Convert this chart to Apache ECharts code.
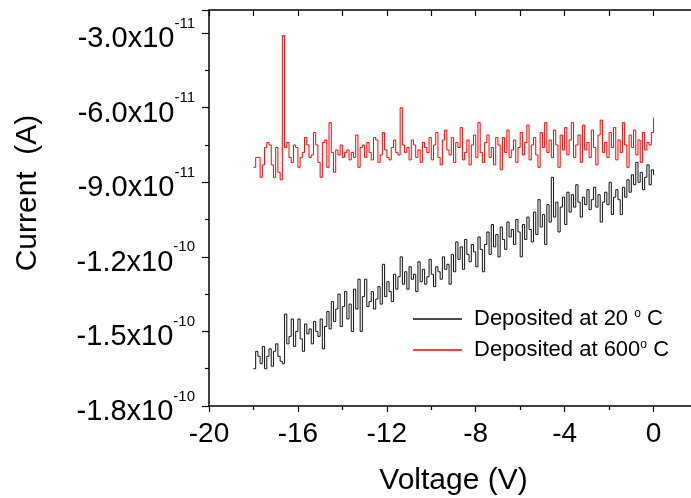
<!DOCTYPE html>
<html>
<head>
<meta charset="utf-8">
<script src="https://cdn.jsdelivr.net/npm/echarts@6/dist/echarts.min.js"></script>
<style>
html,body{margin:0;padding:0;background:#fff;}
#chart{width:691px;height:498px;}
</style>
</head>
<body>
<div id="chart"></div>
<script>
// Voltage sweep (V): -18.0 to 0.0 in 0.1 V steps
const voltageStart = -18.0;
const voltageStep = 0.1;
// Currents in pA (x1e-12 A)
const current20C = [
-165,-158,-160,-163,-156,-165,-160,-157,-164,-158,-155,-160,
-162,-163,-143,-155,
-152,-145,-156,-150,-145,-153,-158,-147,-151,-149,-155,-146,-150,-152,-145,-157,-148,-142,
-149,-138,-146,-141,-135,-148,-140,-134,-145,-139,-150,-133,-141,-129,
-150,-136,-129,-140,-138,-134,-141,-137,-132,-139,-123,-136,-130,-134,-138,-127,-133,-128,-120,
-131,-126,-133,-124,-129,-127,-134,-122,-130,-125,-131,-128,-121,-127,-132,-124,-126,-129,-120,-125,-123,-131,-119,-126,
-114,-121,-116,-125,-113,-119,-122,-115,-118,-124,-112,-117,-126,
-115,-110,-119,-107,-116,-111,-120,-108,-113,-117,-106,-112,-109,-115,-105,-110,-120,-107,-113,-104,-109,-114,-102,
-111,-97,-108,-103,-115,-99,-106,-88,-104,-98,-110,-100,-96,-107,-94,
-102,-95,-100,-91,-98,-104,-96,-99,-93,-101,-97,-92,-100,-95,-106,-98,-94,-99,-90,-103,-96,-93,-97,
-103,-92,-96,-89,-94,-87,-91,-82,-90,-86,-93,-88,-83,-91,-85,-87
];
const current600C = [
-84,-80,-80,-88,-83,-76,-74,-75,-83,-88,-76,-86,-89,
-31,
-76,-74,-80,-82,-75,-76,-84,-80,-78,-72,-75,-80,-79,-70,-75,-82,-88,-74,-73,-84,-66,-78,
-86,-77,-79,-75,-80,-78,-77,-81,-78,-80,-71,-84,-76,-75,-80,-74,-78,-81,-72,-73,-82,-79,-70,-77,-80,-81,-76,-73,-78,-79,
-60,
-75,-78,-76,-81,-73,-75,-80,-77,-82,-74,-76,-78,-72,-81,-75,-70,-80,-83,-73,-69,-77,-79,-72,-82,-74,-76,-68,-81,-78,-73,-83,-75,-71,-80,-66,-78,-82,-74,-71,-80,-76,-83,-72,-75,
-85,-72,-78,-69,-80,-77,-73,-82,-76,-70,-79,-74,-67,-81,-75,-72,-79,-84,-70,-76,-66,-78,-73,-80,-69,-75,-84,-71,-77,-68,
-79,-73,-66,-80,-75,-71,-82,-67,-77,-74,-80,-69,-76,-83,-71,-65,-78,-74,-80,-70,-76,-68,-81,-73,-78,-66,-75,-84,-71,-76,-69,-79,-73,-82,-70,-77,-74,-75,-70,-64
];
const seriesNames = ['Deposited at 20 ° C', 'Deposited at 600° C'];
const legendRich = ['{t|Deposited at 20 }{s|o}{t| C}', '{t|Deposited at 600}{s|o}{t| C}'];
const xTicks = [-20, -16, -12, -8, -4, 0];

const voltage = current20C.map((_, i) => +(voltageStart + voltageStep * i).toFixed(1));
const pairs = arr => arr.map((v, i) => [voltage[i], v]);

const FONT = "'Liberation Sans', Arial, sans-serif";
const chart = echarts.init(document.getElementById('chart'), null, {renderer: 'canvas'});
chart.setOption({
  animation: false,
  backgroundColor: '#fff',
  grid: {left: 209, right: -7, top: 10, bottom: 92, containLabel: false, outerBoundsMode: 'none'},
  legend: {
    orient: 'vertical', left: 413, top: 308, padding: 0, itemWidth: 49, itemHeight: 1.3, itemGap: 9,
    icon: 'rect',
    data: seriesNames,
    formatter: name => legendRich[seriesNames.indexOf(name)],
    textStyle: {
      fontFamily: FONT, color: '#000',
      rich: {
        t: {fontFamily: FONT, fontSize: 22, color: '#000', lineHeight: 22},
        s: {fontFamily: FONT, fontSize: 12, color: '#000', verticalAlign: 'top', lineHeight: 22}
      },
      padding: [0, 0, 0, 7]
    }
  },
  xAxis: [{
    type: 'value', position: 'bottom', min: -20, max: 2, interval: 4,
    name: 'Voltage (V)', nameLocation: 'middle', nameGap: 60,
    nameTextStyle: {fontFamily: FONT, fontSize: 30, color: '#000'},
    axisLine: {show: true, onZero: false, lineStyle: {color: '#000', width: 1.5}},
    axisTick: {show: true, inside: false, length: 6, lineStyle: {color: '#000', width: 1.2}},
    minorTick: {show: true, splitNumber: 2, length: 4, lineStyle: {color: '#000', width: 1.2}},
    splitLine: {show: false},
    axisLabel: {fontFamily: FONT, fontSize: 28, color: '#000', margin: 14, showMaxLabel: false,
      formatter: v => xTicks.includes(v) ? String(v) : ''}
  }, {
    type: 'value', position: 'top', min: -20, max: 2, interval: 2,
    axisLine: {show: true, onZero: false, lineStyle: {color: '#000', width: 1.5}},
    axisTick: {show: true, inside: true, length: 6, lineStyle: {color: '#000', width: 1.2}},
    axisLabel: {show: false}, splitLine: {show: false}
  }],
  yAxis: {
    type: 'value', min: -180, max: -20.7, interval: 30,
    name: 'Current  (A)', nameLocation: 'middle', nameGap: 166, nameRotate: 90,
    nameTextStyle: {fontFamily: FONT, fontSize: 30, color: '#000', padding: [0, 0, 0, 30]},
    axisLine: {show: true, onZero: false, lineStyle: {color: '#000', width: 1.5}},
    axisTick: {show: true, inside: false, length: 7, lineStyle: {color: '#000', width: 1.2}},
    minorTick: {show: true, splitNumber: 2, length: 4, lineStyle: {color: '#000', width: 1.2}},
    splitLine: {show: false},
    axisLabel: {
      margin: 14, showMaxLabel: false,
      formatter: v => {
        if (Math.abs(v % 30) > 1e-6) return '';
        const s = (v * 1e-12).toExponential(1).split('e');
        return '{m|' + s[0] + 'x10}{e|' + s[1] + '}';
      },
      rich: {
        m: {fontFamily: FONT, fontSize: 29, color: '#000', lineHeight: 30, verticalAlign: 'middle', padding: [12, 0, 0, 0]},
        e: {fontFamily: FONT, fontSize: 15, color: '#000', verticalAlign: 'middle', padding: [0, 0, 19, 0]}
      }
    }
  },
  series: [{
    name: seriesNames[0], type: 'line', step: 'end', symbol: 'none', showSymbol: false,
    data: pairs(current20C), lineStyle: {color: '#111', width: 1}, itemStyle: {color: '#111'}, z: 3
  }, {
    name: seriesNames[1], type: 'line', step: 'end', symbol: 'none', showSymbol: false,
    data: pairs(current600C), lineStyle: {color: '#ff0000', width: 1}, itemStyle: {color: '#ff0000'}, z: 2
  }]
});
</script>
</body>
</html>
